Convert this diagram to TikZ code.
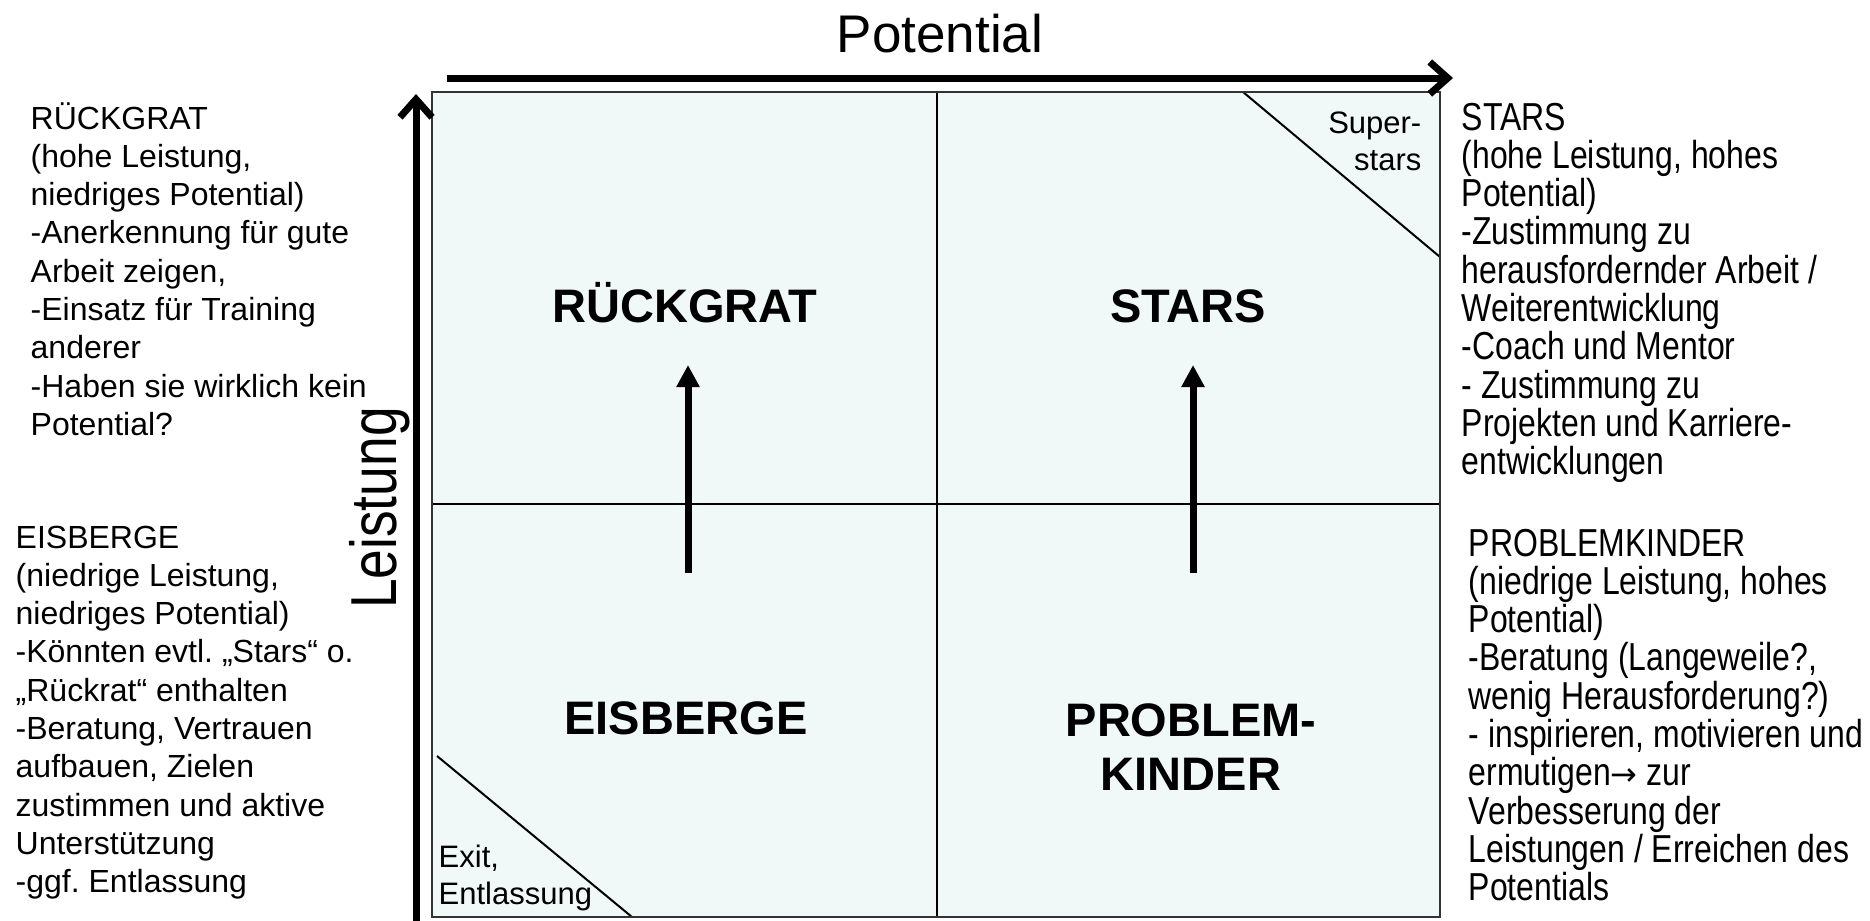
\documentclass[tikz,border=0pt]{standalone}
\usepackage{fontspec}
\setmainfont{Liberation Sans}
\newfontfamily\narrowsans[FakeStretch=0.82]{Liberation Sans}
\newfontfamily\arrowfont{DejaVu Sans}
\usetikzlibrary{arrows.meta}
\frenchspacing
\definecolor{cellfill}{RGB}{240,248,248}
\tikzset{
  axis/.style    = {line width=0.7mm, -{Straight Barb[length=1.8mm, width=3.2mm]}},
  rise/.style    = {line width=0.7mm, -{Triangle[length=2.2mm, width=2.2mm]}},
  divider/.style = {line width=0.2mm, black},
  frame/.style   = {line width=0.25mm, draw=black!80},
  quad/.style    = {font=\fontsize{4.7mm}{5.4mm}\selectfont\bfseries, text width=35mm,
                    align=center, anchor=base, inner sep=0pt},
  lnote/.style   = {font=\fontsize{3.2mm}{3.83mm}\selectfont, text width=40mm,
                    align=left, anchor=base west, inner sep=0pt,
                    execute at begin node={\spaceskip=0.89mm\relax}},
  rnote/.style   = {font=\narrowsans\fontsize{3.9mm}{3.83mm}\selectfont, text width=41mm,
                    align=left, anchor=base west, inner sep=0pt,
                    execute at begin node={\spaceskip=0.89mm\relax}},
  corner/.style  = {font=\fontsize{3.1mm}{3.7mm}\selectfont, text width=15mm, inner sep=0pt},
  axlabel/.style = {font=\fontsize{5.3mm}{6mm}\selectfont, anchor=base, inner sep=0pt},
}

\begin{document}
\begin{tikzpicture}[x=0.1mm, y=-0.1mm]
  \useasboundingbox (0,0) rectangle (1870,920);

  % Matrix
  \coordinate (nw) at (432,92);
  \coordinate (se) at (1440,917);
  \fill[cellfill] (nw) rectangle (se);
  \draw[divider] (937,92) -- (937,917);
  \draw[divider] (432,504) -- (1440,504);
  \draw[divider] (1243,92) -- (1440,257);
  \draw[divider] (437,756) -- (632,917);
  \draw[frame] (nw) rectangle (se);

  \node[corner, align=right, anchor=base east] (super) at (1422,133) {Super-\\stars};
  \node[corner, align=left, anchor=base west] (exit) at (438,867) {Exit,\\Entlassung};

  % Achsen
  \coordinate (yfoot) at (416,925);
  \coordinate (ytip)  at (416,94);
  \coordinate (xfoot) at (447,78);
  \coordinate (xtip)  at (1453,78);
  \draw[axis] (yfoot) -- (ytip);
  \draw[axis] (xfoot) -- (xtip);
  \node[axlabel] (pot) at (940,52) {Potential};
  \node[axlabel, font=\narrowsans\fontsize{6.5mm}{7mm}\selectfont, rotate=90] (leis)
    at (396,508) {Leistung};

  % Felder
  \node[quad] (rueck) at (685,322) {RÜCKGRAT};
  \node[quad] (stars) at (1188,322) {STARS};
  \node[quad] (eis)   at (686,734) {EISBERGE};
  \node[quad] (probl) at (1191,736) {PROBLEM-\\KINDER};

  \coordinate (lbot) at (688,573);
  \coordinate (ltop) at (688,365);
  \coordinate (rbot) at (1193,573);
  \coordinate (rtop) at (1193,365);
  \draw[rise] (lbot) -- (ltop);
  \draw[rise] (rbot) -- (rtop);

  % Beschreibungen
  \node[lnote] (rtext) at (30,129)
    {RÜCKGRAT\\(hohe Leistung,\\niedriges Potential)\\-Anerkennung für gute\\Arbeit zeigen,\\-Einsatz für Training\\anderer\\-Haben sie wirklich kein\\Potential?};
  \node[lnote] (etext) at (15,548)
    {EISBERGE\\(niedrige Leistung,\\niedriges Potential)\\-Könnten evtl. „Stars“ o.\\„Rückrat“ enthalten\\-Beratung, Vertrauen\\aufbauen, Zielen\\zustimmen und aktive\\Unterstützung\\-ggf. Entlassung};
  \node[rnote] (stext) at (1461,130)
    {STARS\\(hohe Leistung, hohes\\Potential)\\-Zustimmung zu\\herausfordernder Arbeit /\\Weiterentwicklung\\-Coach und Mentor\\- Zustimmung zu\\Projekten und Karriere-\\entwicklungen};
  \node[rnote] (ptext) at (1468,556)
    {PROBLEMKINDER\\(niedrige Leistung, hohes\\Potential)\\-Beratung (Langeweile?,\\wenig Herausforderung?)\\- inspirieren, motivieren und\\ermutigen{\arrowfont\fontsize{3.2mm}{3.83mm}\selectfont →} zur\\Verbesserung der\\Leistungen / Erreichen des\\Potentials};
\end{tikzpicture}
\end{document}
